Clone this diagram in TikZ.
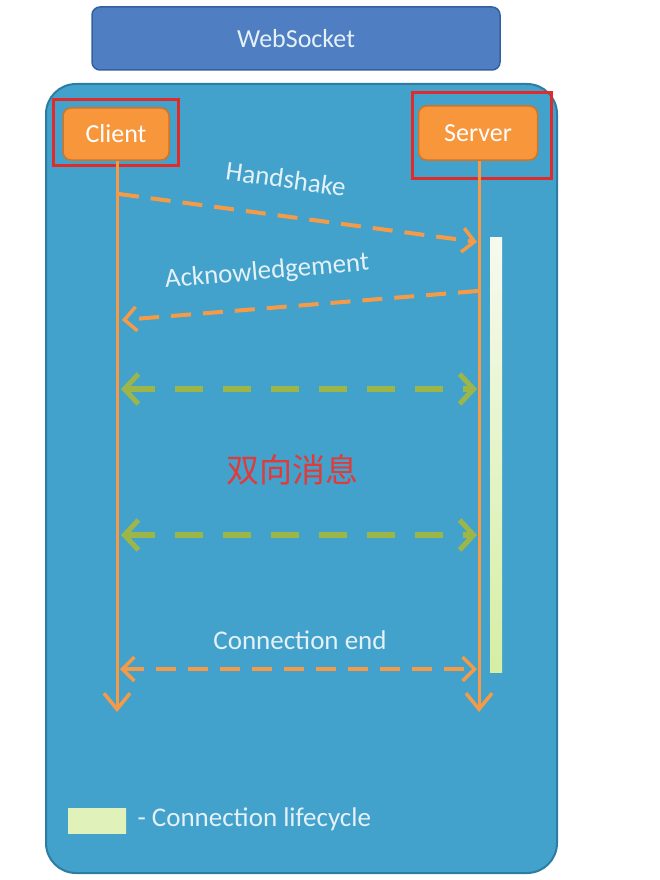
\documentclass[tikz,border=0pt]{standalone}
\usepackage{fontspec}
\setmainfont{Carlito}
\newfontfamily\cjk{Noto Sans CJK SC}
\usetikzlibrary{arrows.meta}
\definecolor{titlefill}{HTML}{4F7EC3}
\definecolor{titleedge}{HTML}{33609F}
\definecolor{panelfill}{HTML}{42A2CC}
\definecolor{paneledge}{HTML}{2B7DA3}
\definecolor{orangefill}{HTML}{F8963C}
\definecolor{orangeedge}{HTML}{D27426}
\definecolor{orangeline}{HTML}{F59B48}
\definecolor{framered}{HTML}{E02B2B}
\definecolor{msggreen}{HTML}{9CB64A}
\definecolor{lighttext}{HTML}{E4F1F7}
\definecolor{barlight}{HTML}{F6FAEE}
\definecolor{bargreen}{HTML}{D6EEA4}
\definecolor{cnred}{HTML}{E23A3A}
\begin{document}
\begin{tikzpicture}[x=1pt,y=-1pt,
  titlebox/.style={draw=titleedge, line width=1.5pt, fill=titlefill, rounded corners=8pt,
    minimum width=408pt, minimum height=63pt, text=lighttext, font=\fontsize{26}{28}\selectfont},
  actor/.style={draw=orangeedge, line width=1.5pt, fill=orangefill, rounded corners=8pt,
    text=white, font=\fontsize{26}{28}\selectfont},
  redframe/.style={draw=framered, line width=3pt},
  life/.style={draw=orangeline, line width=3pt, -{Straight Barb[length=16pt,width=26pt,line width=3.5pt]}},
  omsg/.style={draw=orangeline, line width=4pt, dash pattern=on 20pt off 12pt,
    -{Straight Barb[length=12pt,width=24pt,line width=3.5pt]}},
  omsgboth/.style={omsg, {Straight Barb[length=12pt,width=24pt,line width=3.5pt]}-{Straight Barb[length=12pt,width=24pt,line width=3.5pt]}},
  gmsg/.style={draw=msggreen, line width=6pt, dash pattern=on 28pt off 20pt,
    {Straight Barb[length=14pt,width=30pt,line width=5pt]}-{Straight Barb[length=14pt,width=30pt,line width=5pt]}},
  lbl/.style={text=lighttext, font=\fontsize{27}{29}\selectfont},
  lifebar/.style={draw=none, top color=barlight, bottom color=bargreen, inner sep=0pt}
]
\useasboundingbox (0,0) rectangle (660,880);
\fill[white] (0,0) rectangle (660,880);

% title
\node[titlebox] (ws) at (296,38.5) {WebSocket};

% panel
\draw[draw=paneledge, line width=2pt, fill=panelfill, rounded corners=30pt] (46,84) rectangle (557,873);

% actors
\node[actor, minimum width=106pt, minimum height=52pt] (client) at (116,134) {Client};
\node[actor, minimum width=119pt, minimum height=54pt] (server) at (478,133) {Server};
\node[redframe, minimum width=125pt, minimum height=65pt] (cframe) at (115.5,132.5) {};
\node[redframe, minimum width=139pt, minimum height=85pt] (sframe) at (481.5,135.5) {};

% lifelines
\coordinate (cend) at (117,712);
\coordinate (send) at (479,712);
\draw[life] (client.south -| cend) -- (cend);
\draw[life] (server.south -| send) -- (send);

% connection lifecycle bar
\node[lifebar, minimum width=12pt, minimum height=435pt] (bar) at (496,454.5) {};

% message points on lifelines
\coordinate (c1) at (119,194);
\coordinate (s1) at (477,242);
\coordinate (s2) at (478,291);
\coordinate (c2) at (122,320);
\coordinate (c3) at (121,389);
\coordinate (s3) at (477,389);
\coordinate (c4) at (121,535);
\coordinate (s4) at (477,535);
\coordinate (c5) at (120,669);
\coordinate (s5) at (477,669);

\draw[omsg] (c1) -- (s1);
\draw[omsg] (s2) -- (c2);
\draw[gmsg] (c3) -- (s3);
\draw[gmsg] (c4) -- (s4);
\draw[omsgboth] (c5) -- (s5);

% labels
\node[lbl, rotate=-8, inner sep=1pt] (hs) at (286,179) {Handshake};
\node[lbl, rotate=5, inner sep=1pt] (ack) at (267,272) {Acknowledgement};
\node[text=cnred, font=\cjk\fontsize{33}{36}\selectfont] (bidir) at (292,470) {双向消息};
\node[lbl] (cend-l) at (300,640) {Connection end};

% legend
\node[lifebar, minimum width=58pt, minimum height=25pt, left color=bargreen!70!barlight, right color=bargreen!70!barlight] (leg) at (97,820.5) {};
\node[lbl, anchor=west] (legtext) at (134,819) {- Connection lifecycle};
\end{tikzpicture}
\end{document}
